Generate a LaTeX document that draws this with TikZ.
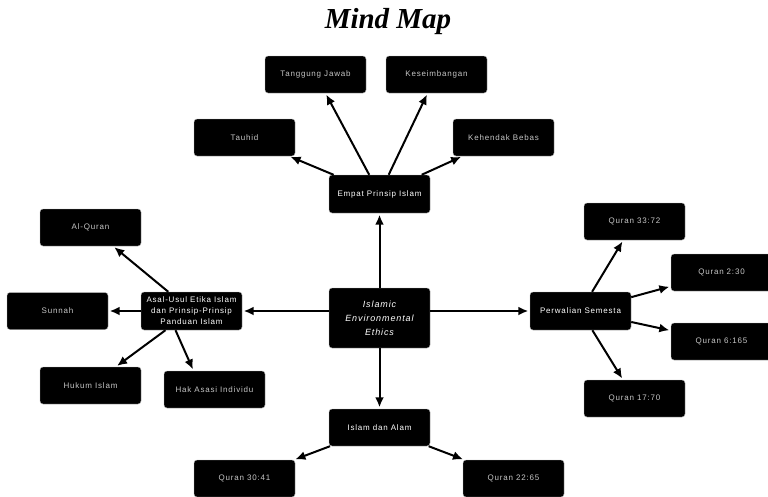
\documentclass[tikz,border=0pt]{standalone}
\usepackage{fontspec}
\setmainfont{Liberation Serif}
\newfontfamily\boxfont[LetterSpace=10]{Liberation Sans}
\usetikzlibrary{arrows.meta}
\tikzset{
  box/.style={fill=black, draw=gray!60, line width=0.4pt, rounded corners=3pt,
    minimum width=101pt, minimum height=37pt, inner sep=1pt, align=center,
    font=\boxfont\fontsize{8}{11}\selectfont, text=gray!45},
  mainbox/.style={box, text=white},
  arr/.style={-{Latex[length=10pt,width=9pt]}, line width=2pt, shorten >=1.5pt},
}
\begin{document}
\begin{tikzpicture}[x=1pt,y=-1pt]
\useasboundingbox (0,0) rectangle (768,496);
\node[font=\bfseries\itshape\fontsize{29}{32}\selectfont] (title) at (388,22) {Mind Map};

\node[mainbox, minimum height=60pt, font=\boxfont\itshape\fontsize{9}{14}\selectfont] (c) at (379.5,318) {Islamic\\Environmental\\Ethics};

\node[mainbox, minimum height=38pt] (emp) at (379.5,194) {Empat Prinsip Islam};
\node[box] (tauhid) at (244.5,137.5) {Tauhid};
\node[box] (tj) at (315.5,74.5) {Tanggung Jawab};
\node[box] (kes) at (436.5,74.5) {Keseimbangan};
\node[box] (keh) at (503.5,137.5) {Kehendak Bebas};

\node[mainbox, minimum height=38pt] (asal) at (191.5,311) {Asal-Usul Etika Islam\\dan Prinsip-Prinsip\\Panduan Islam};
\node[box] (alq) at (90.5,227.5) {Al-Quran};
\node[box] (sun) at (57.5,311) {Sunnah};
\node[box] (huk) at (90.5,385.5) {Hukum Islam};
\node[box] (hak) at (214.5,389.5) {Hak Asasi Individu};

\node[mainbox, minimum height=38pt] (per) at (580.5,311) {Perwalian Semesta};
\node[box] (q1) at (634.5,221.5) {Quran 33:72};
\node[box] (q2) at (721.5,272.5) {Quran 2:30};
\node[box] (q3) at (721.5,341.5) {Quran 6:165};
\node[box] (q4) at (634.5,398.5) {Quran 17:70};

\node[mainbox] (ida) at (379.5,427.5) {Islam dan Alam};
\node[box] (q5) at (244.5,478.5) {Quran 30:41};
\node[box] (q6) at (513.5,478.5) {Quran 22:65};

\draw[arr] (c) -- (emp);
\draw[arr] (c.west |- asal) -- (asal);
\draw[arr] (c.east |- per) -- (per);
\draw[arr] (c) -- (ida);

\draw[arr] (emp) -- (tauhid);
\draw[arr] (emp) -- (tj);
\draw[arr] (emp) -- (kes);
\draw[arr] (emp) -- (keh);

\draw[arr] (asal) -- (alq);
\draw[arr] (asal) -- (sun);
\draw[arr] (asal) -- (huk);
\draw[arr] ([xshift=-16pt]asal.south) -- ([xshift=-21pt]hak.north);

\draw[arr] (per) -- (q1);
\draw[arr] (per) -- (q2);
\draw[arr] (per) -- (q3);
\draw[arr] (per) -- (q4);

\draw[arr] (ida) -- (q5);
\draw[arr] (ida) -- (q6);
\end{tikzpicture}
\end{document}
